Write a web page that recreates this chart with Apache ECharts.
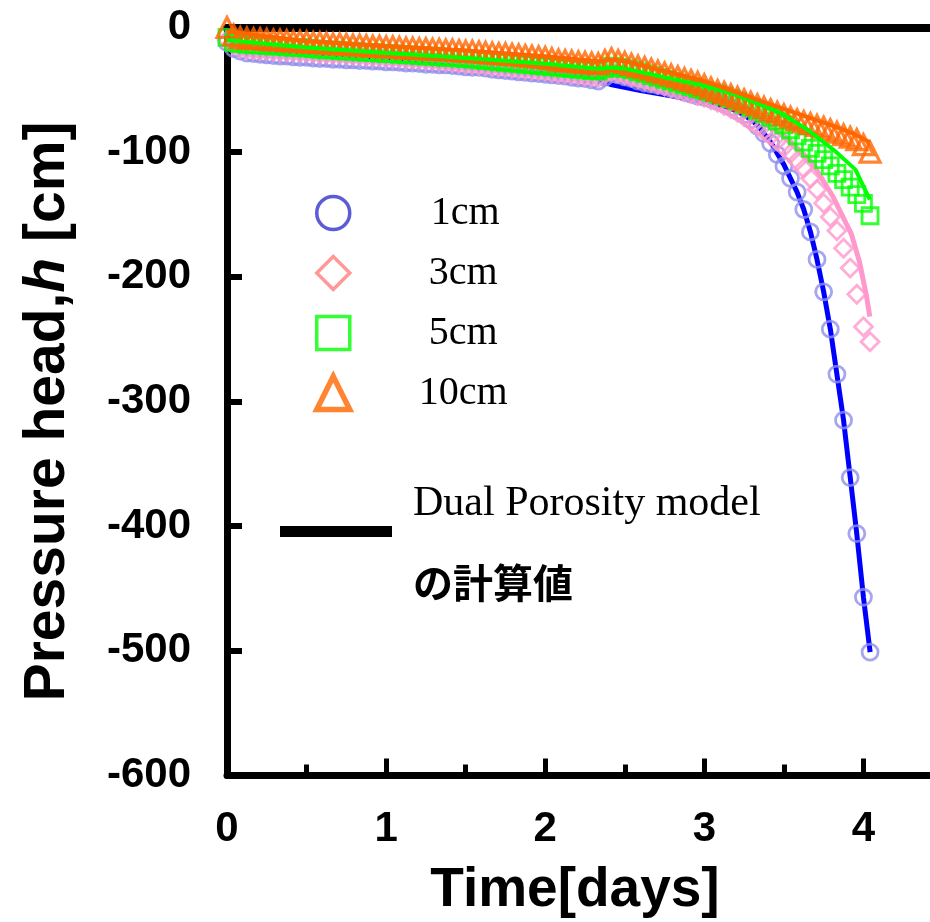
<!DOCTYPE html>
<html><head><meta charset="utf-8">
<script src="https://cdn.jsdelivr.net/npm/echarts@6/dist/echarts.min.js"></script>
<style>html,body{margin:0;padding:0;background:#fff}#c{width:930px;height:922px}</style>
</head><body><div id="c"></div><script>
// measurement times (hours since start)
const hours = [0,1,2,3,4,5,6,7,8,9,10,11,12,13,14,15,16,17,18,19,20,21,22,23,24,25,26,27,28,29,30,31,32,33,34,35,36,37,38,39,40,41,42,43,44,45,46,47,48,49,50,51,52,53,54,55,56,57,58,59,60,61,62,63,64,65,66,67,68,69,70,71,72,73,74,75,76,77,78,79,80,81,82,83,84,85,86,87,88,89,90,91,92,93,94,95,96,97];

// measured pressure head [cm]
const h1cm = [-12,-17,-19,-20.5,-21,-21.5,-22,-22.5,-23,-23,
  -23.5,-24,-24,-24.5,-25,-25,-25.5,-25.5,-26,-26,
  -26.5,-26.5,-27,-27,-27.5,-27.5,-28,-28.5,-28.5,-29,
  -29.5,-29.5,-30,-30,-30.5,-31,-31.5,-32,-32,-32.5,
  -33.5,-34,-34.5,-35,-35.5,-36,-36.5,-37,-37.5,-38,
  -38.5,-39,-40,-40.5,-41,-42,-43,-40,-37,-38,
  -39.5,-41,-43,-44.5,-45.5,-46.5,-47.5,-49,-50.5,-52,
  -53.5,-55,-56,-57.5,-59.5,-61.5,-64,-67,-70,-74,
  -79,-85,-93,-102,-111,-121,-132,-146,-164,-186,
  -212,-242,-278,-315,-361,-406,-457,-501];
const h3cm = [-10,-14,-16.5,-17.5,-18,-18.5,-18.5,-19,-19,-19.5,
  -19.5,-20,-20,-20.5,-21,-21,-21.5,-21.5,-22,-22.5,
  -22.5,-23,-23.5,-23.5,-24,-24.5,-24.5,-25,-25.5,-25.5,
  -26,-26.5,-27,-27.5,-28,-28.5,-29,-29.5,-30,-30.5,
  -31,-31.5,-32,-32.5,-33,-33.5,-34,-34.5,-35,-36,
  -36.5,-37,-37.5,-38,-39,-39.5,-40,-37.5,-35,-36.5,
  -38,-39.5,-41,-42.5,-44,-45.5,-47,-48.5,-50,-51.5,
  -53,-54.5,-56,-58,-60,-62.5,-65,-68,-71.5,-75,
  -79,-83,-87,-91,-96,-101,-107,-113,-121,-130,
  -141,-152,-163,-177,-193,-214,-240,-252];
const h5cm = [-8,-12,-13,-13.5,-14,-14,-14.5,-15,-15,-15.5,
  -16,-16,-16.5,-17,-17.5,-18,-18,-18.5,-19,-19,
  -19.5,-20,-20,-20.5,-21,-21,-21.5,-22,-22,-22.5,
  -23,-23,-23.5,-24,-24,-24.5,-25,-25.5,-26,-26.5,
  -27,-27.5,-28,-28.5,-29,-29.5,-30,-30.5,-31,-31.5,
  -32,-32.5,-33,-33.5,-34,-34.5,-35,-33,-31,-32,
  -33,-34,-35.5,-37,-38.5,-40,-41.5,-43,-44.5,-46,
  -47.5,-49,-50.5,-52,-53.5,-55,-57,-59,-61.5,-64,
  -66.5,-69,-72,-75,-78,-82,-87,-92,-97,-101,
  -106,-111,-117,-122,-128,-134,-141,-151];
const h10cm = [0,-6,-8,-8.5,-9,-9,-9.5,-10,-10,-10.5,
  -11,-11,-11.5,-12,-12,-12.5,-13,-13,-13.5,-14,
  -14,-14.5,-15,-15,-15.5,-15.5,-16,-16.5,-16.5,-17,
  -17,-17.5,-17.5,-18,-18,-18.5,-19,-19,-19.5,-20,
  -20.5,-21,-21,-21.5,-22,-22.5,-23,-23.5,-24,-25,
  -26,-26.5,-27,-27.5,-28,-28.5,-29,-26.5,-25,-26.5,
  -28,-29.5,-31,-32,-33.5,-35,-36.5,-38,-39.5,-41,
  -42.5,-44,-46,-48.5,-50.5,-52,-54,-56,-58,-60,
  -62,-64,-66,-68,-70,-72,-74,-75.5,-77,-78.5,
  -80,-82,-84,-86,-88,-90,-94,-100];

// Dual Porosity model (computed) curves: time [days], head [cm]
const m1cmT = [0,0.25,0.5,1.0,1.5,2.0,2.33,2.375,2.42,2.6,2.8,3.0,3.15,3.25,3.333,3.417,3.5,3.583,3.625,3.667,3.708,3.75,3.792,3.833,3.875,3.917,3.958,4.0,4.042];
const m1cmH = [-12,-18.5,-20,-24,-29,-35,-39.5,-44,-46,-50.5,-55,-59.5,-64,-70,-78,-92,-110,-132,-146,-164,-186,-212,-242,-278,-315,-361,-406,-457,-501];
const m3cmT = [0,0.5,1.0,1.5,2.0,2.33,2.42,2.5,2.75,2.975,3.2,3.375,3.515,3.675,3.81,3.925,3.975,4.02,4.04];
const m3cmH = [-13,-19,-23,-27.5,-33,-37,-37,-39,-46,-54,-64,-76,-88,-108,-136,-166,-188,-216,-232];
const m5cmT = [0,0.5,1.0,1.5,2.0,2.33,2.42,2.5,2.75,2.975,3.2,3.47,3.65,3.83,3.95,4.04];
const m5cmH = [-10,-16,-20.5,-24.5,-29,-33,-32,-33,-40,-46,-54,-68,-82,-100,-114,-138];
const m10cmT = [0,0.5,1.0,1.5,2.0,2.33,2.42,2.5,2.75,2.975,3.2,3.47,3.65,3.83,3.95,4.04];
const m10cmH = [-3,-11,-15,-18.5,-23,-27,-26,-27,-35,-42,-52,-64,-72,-80,-86,-92];

const seriesNames = ['1cm','3cm','5cm','10cm'];
const xTicks = [0,1,2,3,4];
const yTicks = [0,-100,-200,-300,-400,-500,-600];

const days = hours.map(h => h / 24);
const pts = arr => days.map((d, i) => [d, arr[i]]);
const mpts = (t, h) => t.map((d, i) => [d, h[i]]);

const SANS = '"Liberation Sans", Arial, sans-serif';
const SERIF = '"Liberation Serif", "Times New Roman", serif';
const tf = 'rgba(255,255,255,0)';

const chart = echarts.init(document.getElementById('c'), null, {renderer:'canvas'});
chart.setOption({
  animation: false,
  backgroundColor: '#fff',
  grid: {left: 227, top: 27.5, width: 716, height: 748, outerBoundsMode: 'none', containLabel: false},
  xAxis: [{
    type: 'value', min: 0, max: 4.5, interval: 1, position: 'bottom',
    axisLine: {show: true, onZero: false, lineStyle: {color: '#000', width: 7}},
    axisTick: {show: true, inside: true, length: 17, lineStyle: {color: '#000', width: 5}},
    minorTick: {show: true, splitNumber: 2, length: 11, lineStyle: {color: '#000', width: 5}},
    splitLine: {show: false},
    axisLabel: {showMaxLabel: false, margin: 33, fontSize: 42, fontWeight: 'bold', fontFamily: SANS, color: '#000',
      formatter: v => xTicks.indexOf(v) >= 0 ? String(v) : ''},
    name: 'Time[days]', nameLocation: 'middle', nameGap: 88,
    nameTextStyle: {fontSize: 55, fontWeight: 'bold', fontFamily: SANS, color: '#000', padding: [0, 20, 0, 0]}
  }, {
    type: 'value', min: 0, max: 4.5, position: 'top',
    axisLine: {show: true, onZero: false, lineStyle: {color: '#000', width: 8}},
    axisTick: {show: false}, axisLabel: {show: false}, splitLine: {show: false}
  }],
  yAxis: {
    type: 'value', min: -600, max: 0, interval: 100,
    axisLine: {show: true, onZero: false, lineStyle: {color: '#000', width: 7}},
    axisTick: {show: true, inside: true, length: 15, lineStyle: {color: '#000', width: 6}},
    splitLine: {show: false},
    axisLabel: {margin: 36, fontSize: 42, fontWeight: 'bold', fontFamily: SANS, color: '#000',
      formatter: v => yTicks.indexOf(v) >= 0 ? String(v) : ''},
    name: '{a|Pressure head,}{b|h}{a| [cm]}', nameLocation: 'middle', nameGap: 150,
    nameTextStyle: {padding: [0, 20, 0, 0], rich: {
      a: {fontSize: 57, fontWeight: 'bold', fontFamily: SANS, color: '#000'},
      b: {fontSize: 57, fontWeight: 'bold', fontStyle: 'italic', fontFamily: SANS, color: '#000'}
    }}
  },
  legend: {
    orient: 'vertical', left: 314, top: 193, padding: 0, selectedMode: false,
    itemWidth: 33, itemHeight: 33, itemGap: 20,
    textStyle: {fontFamily: SERIF, fontSize: 40, color: '#000', lineHeight: 33},
    data: [
      {name: seriesNames[0], icon: 'circle', itemStyle: {color: tf, borderColor: '#3333cc', borderWidth: 3.5}, textStyle: {padding: [0,0,0,76]}},
      {name: seriesNames[1], icon: 'diamond', itemStyle: {color: tf, borderColor: '#ff8080', borderWidth: 3.5}, textStyle: {padding: [0,0,0,74]}},
      {name: seriesNames[2], icon: 'rect', itemStyle: {color: tf, borderColor: '#00ff00', borderWidth: 3.5}, textStyle: {padding: [0,0,0,74]}},
      {name: seriesNames[3], icon: 'triangle', itemStyle: {color: tf, borderColor: '#ff6600', borderWidth: 5.5}, textStyle: {padding: [0,0,0,64]}}
    ]
  },
  graphic: [
    {type: 'rect', shape: {x: 280, y: 526, width: 112, height: 11}, style: {fill: '#000'}},
    {type: 'text', x: 413, y: 504, style: {text: 'Dual Porosity model', font: '42px ' + SERIF, fill: '#000', verticalAlign: 'middle'}},
    {type: 'text', x: 413, y: 583, style: {text: 'の計算値', font: 'bold 40px "Noto Sans CJK JP"', fill: '#000', verticalAlign: 'middle'}}
  ],
  series: [
    {type: 'line', name: 'model1', data: mpts(m1cmT, m1cmH), showSymbol: false, symbol: 'none', silent: true, z: 1,
      lineStyle: {color: '#0000ff', width: 5}},
    {type: 'line', name: 'model3', data: mpts(m3cmT, m3cmH), showSymbol: false, symbol: 'none', silent: true, z: 1,
      lineStyle: {color: '#ff99cc', width: 5}},
    {type: 'scatter', name: seriesNames[0], data: pts(h1cm), symbol: 'circle', symbolSize: 16, clip: false, silent: true,
      itemStyle: {color: tf, borderColor: '#8f8fee', borderWidth: 2.8}},
    {type: 'scatter', name: seriesNames[1], data: pts(h3cm), symbol: 'diamond', symbolSize: 18, clip: false, silent: true,
      itemStyle: {color: tf, borderColor: '#ff99cc', borderWidth: 2.8}},
    {type: 'line', name: 'model5', data: mpts(m5cmT, m5cmH), showSymbol: false, symbol: 'none', silent: true,
      lineStyle: {color: '#00ff00', width: 4}},
    {type: 'scatter', name: seriesNames[2], data: pts(h5cm), symbol: 'rect', symbolSize: 16, clip: false, silent: true,
      itemStyle: {color: tf, borderColor: '#00ff00', borderWidth: 2.8}},
    {type: 'line', name: 'model10', data: mpts(m10cmT, m10cmH), showSymbol: false, symbol: 'none', silent: true,
      lineStyle: {color: '#ff6600', width: 4}},
    {type: 'scatter', name: seriesNames[3], data: pts(h10cm), symbol: 'triangle', symbolSize: 20, clip: false, silent: true,
      itemStyle: {color: tf, borderColor: '#ff6600', borderWidth: 3.2}}
  ]
});
</script></body></html>
